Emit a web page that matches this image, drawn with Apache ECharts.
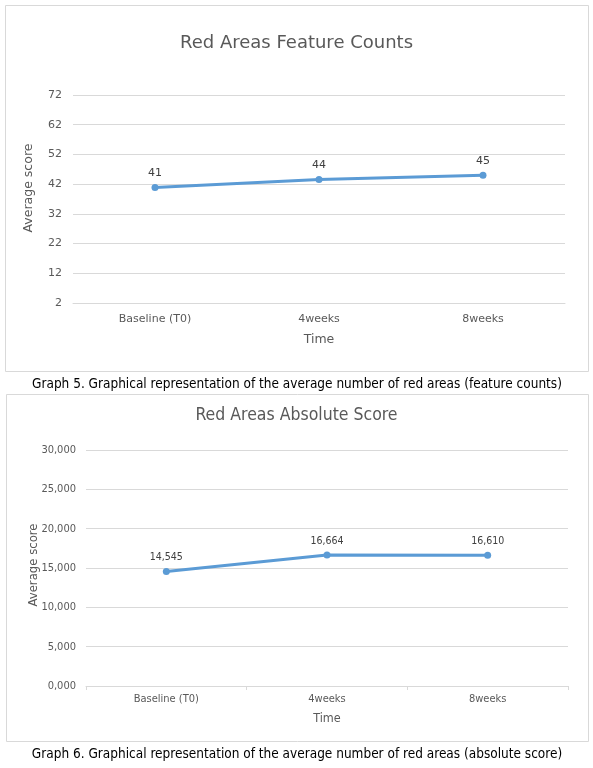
<!DOCTYPE html>
<html>
<head>
<meta charset="utf-8">
<script src="https://cdn.jsdelivr.net/npm/echarts@6/dist/echarts.min.js"></script>
<style>
  html, body { margin: 0; padding: 0; background: #ffffff; }
  #chart { width: 593px; height: 768px; }
</style>
</head>
<body>
<div id="chart"></div>
<script>
// ---- Data ----
const categories = ['Baseline (T0)', '4weeks', '8weeks'];
const featureCounts = [40.9, 43.6, 45.0];
const absoluteScores = [14545, 16664, 16610];
const featureTicks = [2, 12, 22, 32, 42, 52, 62, 72];
const absoluteTicks = [0, 5000, 10000, 15000, 20000, 25000, 30000];
const absoluteTickLabels = ['0,000', '5,000', '10,000', '15,000', '20,000', '25,000', '30,000'];

const title1 = 'Red Areas Feature Counts';
const title2 = 'Red Areas Absolute Score';
const caption1 = 'Graph 5. Graphical representation of the average number of red areas (feature counts)';
const caption2 = 'Graph 6. Graphical representation of the average number of red areas (absolute score)';
const yName = 'Average score';
const xName = 'Time';

// ---- Styles ----
const F1 = 'DejaVu Sans';
const F2 = 'DejaVu Sans Condensed';
const TXT = '#595959';
const GRID = '#d9d9d9';
const LINE = '#5b9bd5';

const chart = echarts.init(document.getElementById('chart'), null, { renderer: 'canvas' });

const option = {
  animation: false,
  backgroundColor: '#ffffff',
  title: [
    { text: title1, left: 'center', top: 34, padding: 0,
      textStyle: { fontFamily: F1, fontSize: 18, fontWeight: 'normal', color: TXT } },
    { text: title2, left: 'center', top: 406, padding: 0,
      textStyle: { fontFamily: F2, fontSize: 17.5, fontWeight: 'normal', color: TXT } }
  ],
  grid: [
    { left: 73, right: 28, top: 95, bottom: 465 },
    { left: 86, right: 25, top: 450, bottom: 82 }
  ],
  xAxis: [
    {
      gridIndex: 0, type: 'category', data: categories, boundaryGap: true,
      axisLine: { show: true, lineStyle: { color: GRID, width: 1 } },
      axisTick: { show: false },
      axisLabel: { color: TXT, fontFamily: F1, fontSize: 11, margin: 11 },
      name: xName, nameLocation: 'middle', nameGap: 30,
      nameTextStyle: { color: TXT, fontFamily: F1, fontSize: 12.5 }
    },
    {
      gridIndex: 1, type: 'category', data: categories, boundaryGap: true,
      axisLine: { show: true, lineStyle: { color: GRID, width: 1 } },
      axisTick: { show: true, length: 4, lineStyle: { color: GRID } },
      axisLabel: { color: TXT, fontFamily: F2, fontSize: 11, margin: 8 },
      name: xName, nameLocation: 'middle', nameGap: 26,
      nameTextStyle: { color: TXT, fontFamily: F2, fontSize: 12.5 }
    }
  ],
  yAxis: [
    {
      gridIndex: 0, type: 'value',
      min: featureTicks[0], max: featureTicks[featureTicks.length - 1],
      interval: featureTicks[1] - featureTicks[0],
      axisLine: { show: false }, axisTick: { show: false },
      splitLine: { show: true, lineStyle: { color: GRID, width: 1 } },
      axisLabel: { color: TXT, fontFamily: F1, fontSize: 11, margin: 11 },
      name: yName, nameLocation: 'middle', nameGap: 38,
      nameTextStyle: { color: TXT, fontFamily: F1, fontSize: 12.5, padding: [0, 0, 0, 22] }
    },
    {
      gridIndex: 1, type: 'value',
      min: absoluteTicks[0], max: absoluteTicks[absoluteTicks.length - 1],
      interval: absoluteTicks[1] - absoluteTicks[0],
      axisLine: { show: false }, axisTick: { show: false },
      splitLine: { show: true, lineStyle: { color: GRID, width: 1 } },
      axisLabel: {
        color: TXT, fontFamily: F2, fontSize: 11, margin: 10,
        formatter: function (v) {
          const i = absoluteTicks.indexOf(v);
          return i >= 0 ? absoluteTickLabels[i] : '';
        }
      },
      name: yName, nameLocation: 'middle', nameGap: 46, nameMoveOverlap: false,
      nameTextStyle: { color: TXT, fontFamily: F2, fontSize: 13, padding: [0, 0, 0, 6] }
    }
  ],
  series: [
    {
      type: 'line', xAxisIndex: 0, yAxisIndex: 0, data: featureCounts,
      symbol: 'circle', symbolSize: 7,
      lineStyle: { color: LINE, width: 3 },
      itemStyle: { color: LINE },
      label: {
        show: true, position: 'top', distance: 5,
        color: '#404040', fontFamily: F1, fontSize: 11,
        formatter: function (p) { return Number(p.value).toFixed(0); }
      }
    },
    {
      type: 'line', xAxisIndex: 1, yAxisIndex: 1, data: absoluteScores,
      symbol: 'circle', symbolSize: 7,
      lineStyle: { color: LINE, width: 3 },
      itemStyle: { color: LINE },
      label: {
        show: true, position: 'top', distance: 5,
        color: '#404040', fontFamily: F2, fontSize: 10.5,
        formatter: function (p) { return Number(p.value).toLocaleString('en-US'); }
      }
    }
  ],
  graphic: [
    { type: 'rect', z: -1, silent: true,
      shape: { x: 5.5, y: 5.5, width: 583, height: 366 },
      style: { fill: 'none', stroke: GRID, lineWidth: 1 } },
    { type: 'rect', z: -1, silent: true,
      shape: { x: 6.5, y: 394.5, width: 582, height: 347 },
      style: { fill: 'none', stroke: GRID, lineWidth: 1 } },
    { type: 'text', x: 297, y: 384, silent: true,
      style: { text: caption1, fill: '#000000', font: '13.5px "DejaVu Sans Condensed"',
               textAlign: 'center', textVerticalAlign: 'middle' } },
    { type: 'text', x: 297, y: 754, silent: true,
      style: { text: caption2, fill: '#000000', font: '13.5px "DejaVu Sans Condensed"',
               textAlign: 'center', textVerticalAlign: 'middle' } }
  ]
};

chart.setOption(option);
</script>
</body>
</html>
